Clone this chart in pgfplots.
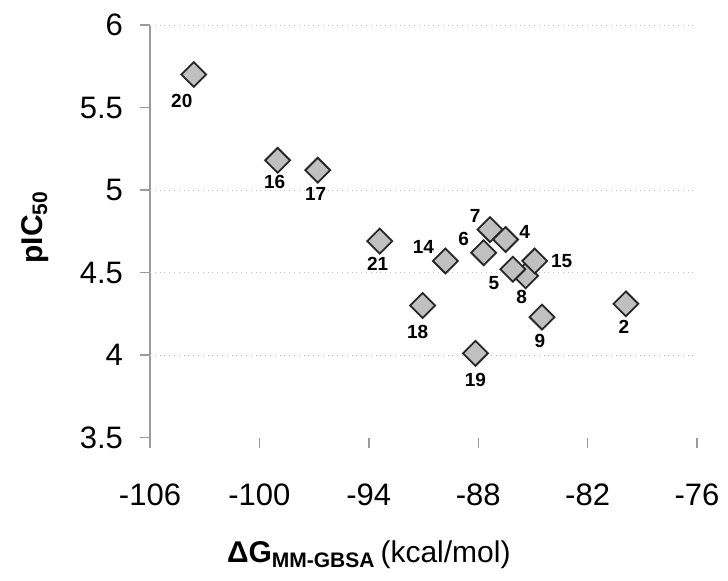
\documentclass[border=0pt]{standalone}
\usepackage{fontspec}
\setmainfont{Liberation Sans}
\usepackage{pgfplots}
\usepackage{pgfplotstable}
\pgfplotsset{compat=1.18}
\definecolor{mkfill}{HTML}{C0C0C0}
\definecolor{axgray}{HTML}{9A9A9A}

% x = dG MM-GBSA, y = pIC50, dx/dy = label offset (pt)
\pgfplotstableread{
x       y     lab  dx     dy
-103.6  5.70  20   -6     -13
-99.0   5.18  16   -1.5   -11
-96.8   5.12  17   -1     -12
-93.4   4.69  21   -1     -11.5
-89.8   4.57  14   -11    7
-91.05  4.30  18   -2.5   -13
-87.7   4.62  6    -10    7
-87.35  4.76  7    -7.5   7
-86.5   4.70  4    9.5    4
-88.15  4.01  19   0      -13.5
-85.4   4.48  8    -2     -10.5
-86.1   4.52  5    -9.5   -7
-84.9   4.57  15   13.5   0
-84.5   4.23  9    -1     -12
-79.9   4.31  2    -1     -11.5
}\pts

\begin{document}
\begin{tikzpicture}
\useasboundingbox (-75pt,-71.25pt) rectangle (289pt,218.75pt);
\begin{axis}[
  scale only axis, width=273.5pt, height=206.25pt,
  xmin=-106, xmax=-76, ymin=3.5, ymax=6,
  axis lines*=left,
  x axis line style={draw=none},
  y axis line style={draw=axgray, line width=0.7pt},
  tick align=outside,
  major tick length=5pt,
  tick style={draw=axgray, line width=0.7pt},
  xtick={-106,-100,...,-76},
  ytick={3.5,4,4.5,5,5.5,6},
  extra y ticks={4,4.5,5,6},
  extra y tick labels={},
  extra y tick style={grid=major, major tick length=0pt,
    major grid style={draw=black!22, dotted, line width=0.5pt}},
  /pgf/number format/assume math mode=true,
  tick label style={font=\fontsize{15.5}{17}\selectfont},
  xticklabel style={yshift=-14.5pt},
  yticklabel style={xshift=-5pt},
  xlabel={{\bfseries ΔG\textsubscript{MM-GBSA}}\,(kcal/mol)},
  xlabel style={at={(axis description cs:0.40,-0.285)}, anchor=center,
    font=\fontsize{15}{17}\selectfont},
  ylabel={\bfseries pIC\textsubscript{50}},
  ylabel style={at={(axis description cs:-0.21,0.51)}, anchor=center,
    font=\fontsize{15}{17}\selectfont},
  clip=false,
]
\addplot[only marks, mark=square*, mark size=4.4pt,
  mark options={rotate=45, fill=mkfill, draw=black!85, line width=0.9pt},
  visualization depends on={\thisrow{dx} \as \ldx},
  visualization depends on={\thisrow{dy} \as \ldy},
  nodes near coords, point meta=explicit symbolic,
  every node near coord/.append style={anchor=center, xshift=\ldx pt, yshift=\ldy pt,
    font=\fontsize{9.5}{10}\selectfont\bfseries, inner sep=0pt}]
  table[x=x, y=y, meta=lab] {\pts};
\end{axis}
\end{tikzpicture}
\end{document}
